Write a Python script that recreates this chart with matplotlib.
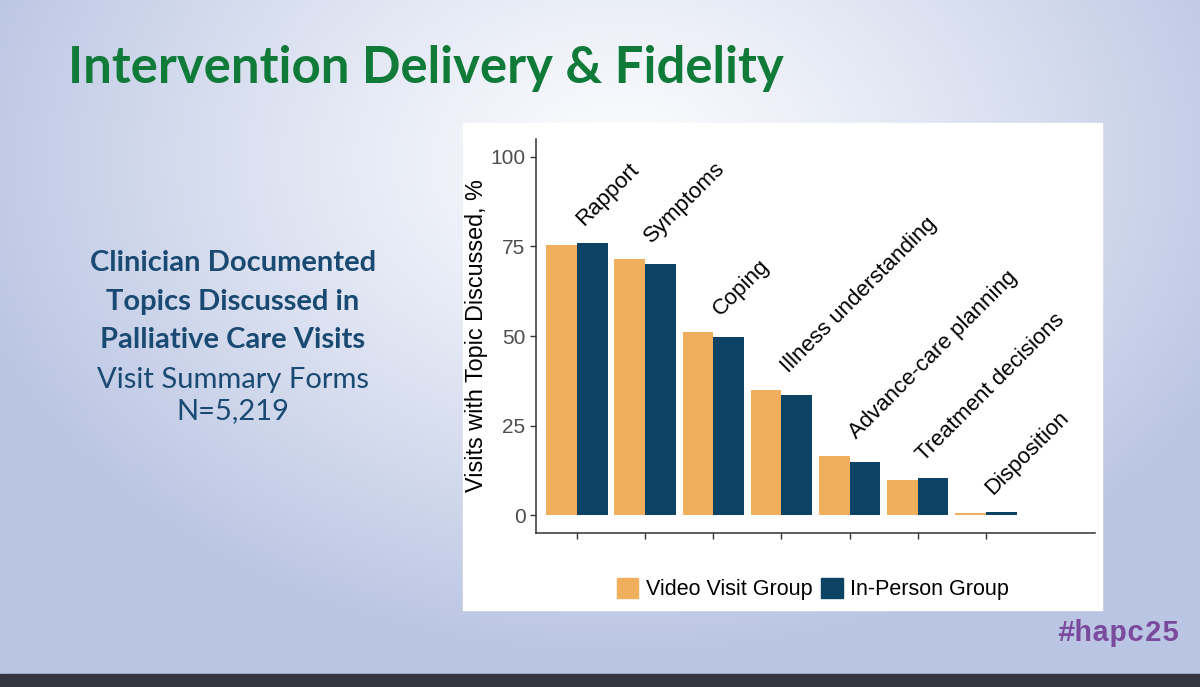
import numpy as np
import matplotlib.pyplot as plt
from matplotlib.patches import Rectangle, Patch

# Datos
temas = ['Rapport', 'Symptoms', 'Coping', 'Illness understanding',
         'Advance-care planning', 'Treatment decisions', 'Disposition']
video = [75.4, 71.4, 51.0, 35.0, 16.6, 9.7, 0.7]
presencial = [76.1, 70.2, 49.8, 33.4, 14.9, 10.3, 1.0]
grupos = ['Video Visit Group', 'In-Person Group']
yticks = [0, 25, 50, 75, 100]

c_video = '#F0AF5C'
c_pres = '#0C4263'

W, H = 1200, 687
fig = plt.figure(figsize=(12, 6.87), dpi=100)

# %% Fondo de la diapositiva (degradado azulado)
bg = fig.add_axes([0, 0, 1, 1])
yy, xx = np.mgrid[0:H, 0:W]
d = np.sqrt(((xx - 620) / 680.0) ** 2 + ((yy - 160) / 500.0) ** 2)
t = np.clip(d, 0, 1) ** 1.2
c0 = np.array([251, 252, 254]) / 255
c1 = np.array([186, 197, 227]) / 255
img = c0 * (1 - t[..., None]) + c1 * t[..., None]
bg.imshow(img, extent=[0, W, H, 0], aspect='auto')
bg.add_patch(Rectangle((0, 674), W, 13, color='#34363F'))
bg.add_patch(Rectangle((463, 123), 639, 487, color='white'))
bg.set_xlim(0, W)
bg.set_ylim(H, 0)
bg.axis('off')

# Textos de la diapositiva
bg.text(68, 68, 'Intervention Delivery & Fidelity', fontsize=36.6, fontweight='bold',
        family='Lato', color='#107A38', va='center', ha='left')
lineas = [('Clinician Documented', 'bold', 263), ('Topics Discussed in', 'bold', 302),
          ('Palliative Care Visits', 'bold', 340), ('Visit Summary Forms', 'normal', 380),
          ('N=5,219', 'normal', 411)]
for txt, peso, yp in lineas:
    bg.text(233, yp, txt, fontsize=21, fontweight=peso, family='Lato',
            color='#1A4A72', ha='center', va='center')
bg.text(1118, 633, '#hapc25', fontsize=21, fontweight='bold', family='Liberation Mono',
        color='#7A4B9C', ha='center', va='center')

# %% Grafico de barras
ax = fig.add_axes([536 / W, 1 - 533 / H, (1095 - 536) / W, (533 - 139) / H])
x = np.arange(1, len(temas) + 1)
ancho = 0.45
ax.bar(x - ancho / 2, video, width=ancho, color=c_video)
ax.bar(x + ancho / 2, presencial, width=ancho, color=c_pres)

for i, tema in enumerate(temas):
    tope = max(video[i], presencial[i])
    ax.text(x[i] + 0.15, tope + 3.5, tema, rotation=45, rotation_mode='anchor',
            ha='left', va='bottom', fontsize=16, family='Liberation Sans', color='black')

ax.set_xlim(0.4, 8.6)
ax.set_ylim(-5, 105)
ax.set_yticks(yticks)
ax.set_yticklabels([str(v) for v in yticks], fontsize=15, family='Liberation Sans', color='#4D4D4D')
ax.set_xticks(x)
ax.set_xticklabels([''] * len(temas))
ax.tick_params(axis='both', length=4, width=1, color='#333333')
ax.set_ylabel('Visits with Topic Discussed, %', fontsize=16.8, family='Liberation Sans',
              color='black', labelpad=2)
for lado in ['top', 'right']:
    ax.spines[lado].set_visible(False)
for lado in ['left', 'bottom']:
    ax.spines[lado].set_color('#333333')
    ax.spines[lado].set_linewidth(1.1)
ax.set_facecolor('white')

manijas = [Patch(color=c_video), Patch(color=c_pres)]
ax.legend(manijas, grupos, loc='center', bbox_to_anchor=(813 / W, 1 - 589 / H),
          bbox_transform=fig.transFigure, ncol=2, frameon=False,
          handlelength=1.0, handleheight=1.1, handletextpad=0.35, columnspacing=0.4,
          prop={'family': 'Liberation Sans', 'size': 15.5})

fig.savefig('out.png', dpi=100)
